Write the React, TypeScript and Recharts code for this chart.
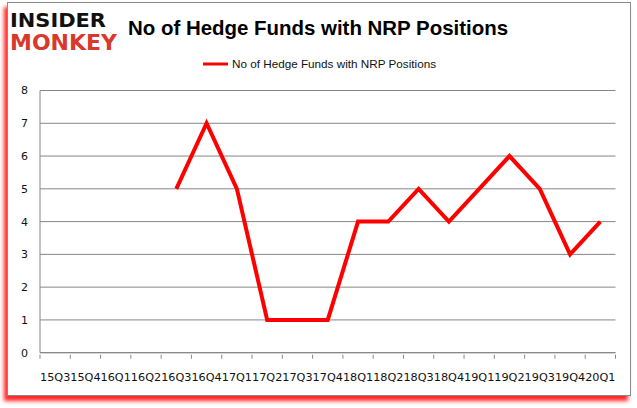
import { LineChart, Line, XAxis, YAxis, CartesianGrid } from "recharts"

const quarters = [
 "15Q3", "15Q4", "16Q1", "16Q2", "16Q3", "16Q4", "17Q1", "17Q2", "17Q3", "17Q4",
 "18Q1", "18Q2", "18Q3", "18Q4", "19Q1", "19Q2", "19Q3", "19Q4", "20Q1",
]

const hedgeFunds: (number | null)[] = [
 null, null, null, null, 5, 7, 5, 1, 1, 1, 4, 4, 5, 4, 5, 6, 5, 3, 4,
]

const yTicks = [0, 1, 2, 3, 4, 5, 6, 7, 8]

const seriesName = "No of Hedge Funds with NRP Positions"

const data = quarters.map((q, i) => ({ quarter: q, funds: hedgeFunds[i] }))

const PLOT_LEFT = 40
const PLOT_RIGHT = 615.5
const BAND = (PLOT_RIGHT - PLOT_LEFT) / quarters.length
const AXIS_GRAY = "#868686"

function QuarterTick(props: any) {
 const { x, y, payload, index } = props
 const last = index === quarters.length - 1
 return (
  <g>
   <line x1={x - BAND / 2} x2={x - BAND / 2} y1={y} y2={y + 4} stroke={AXIS_GRAY} />
   {last && (
    <line x1={x + BAND / 2} x2={x + BAND / 2} y1={y} y2={y + 4} stroke={AXIS_GRAY} />
   )}
   <text
    x={x}
    y={y + 26}
    textAnchor="middle"
    fontSize={10.5}
    fontFamily="DejaVu Sans"
    textLength={BAND}
    lengthAdjust="spacingAndGlyphs"
    fill="#111"
   >
    {payload.value}
   </text>
  </g>
 )
}

export default function App() {
 return (
  <div
   style={{
    position: "absolute",
    left: 0,
    top: 0,
    width: 637,
    height: 408,
    background: "#fff",
   }}
  >
   <div
    style={{
     position: "absolute",
     left: 7,
     top: 2,
     width: 622,
     height: 392,
     border: "1px solid #8a8a8a",
     boxShadow: "-3px 5px 4px rgba(255,0,0,0.85)",
     background: "#fff",
    }}
   />

   <svg
    width={637}
    height={80}
    style={{ position: "absolute", left: 0, top: 0 }}
   >
    <text
     x={10}
     y={27}
     fontFamily="DejaVu Sans"
     fontWeight="bold"
     fontSize={20}
     textLength={96}
     lengthAdjust="spacingAndGlyphs"
     fill="#111"
    >
     INSIDER
    </text>
    <text
     x={10}
     y={50}
     fontFamily="DejaVu Sans"
     fontWeight="bold"
     fontSize={22}
     textLength={107}
     lengthAdjust="spacingAndGlyphs"
     fill="#d8392b"
    >
     MONKEY
    </text>
    <text
     x={128}
     y={35}
     fontFamily="Liberation Sans"
     fontWeight="bold"
     fontSize={21}
     textLength={380}
     lengthAdjust="spacingAndGlyphs"
     fill="#000"
    >
     No of Hedge Funds with NRP Positions
    </text>
    <line x1={203} x2={228} y1={64} y2={64} stroke="#ff0000" strokeWidth={3} />
    <text
     x={232}
     y={68}
     fontFamily="Liberation Sans"
     fontSize={11.5}
     textLength={204}
     lengthAdjust="spacingAndGlyphs"
     fill="#111"
    >
     {seriesName}
    </text>
   </svg>

   <div style={{ position: "absolute", left: 0, top: 0 }}>
    <LineChart
     width={637}
     height={408}
     data={data}
     margin={{ top: 90.5, right: 637 - PLOT_RIGHT, left: 10, bottom: 25.3 }}
    >
     <CartesianGrid vertical={false} stroke={AXIS_GRAY} strokeWidth={1} />
     <XAxis
      dataKey="quarter"
      scale="band"
      interval={0}
      axisLine={{ stroke: AXIS_GRAY }}
      tickLine={false}
      tickSize={0}
      height={30}
      tick={<QuarterTick />}
     />
     <YAxis
      domain={[0, 8]}
      ticks={yTicks}
      interval={0}
      width={30}
      axisLine={{ stroke: AXIS_GRAY }}
      tickLine={false}
      tickSize={0}
      tickMargin={12}
      tick={{ fontSize: 11, fontFamily: "DejaVu Sans", fill: "#111" }}
     />
     <Line
      type="linear"
      dataKey="funds"
      name={seriesName}
      stroke="#ff0000"
      strokeWidth={4}
      dot={false}
      activeDot={false}
      isAnimationActive={false}
     />
    </LineChart>
   </div>
  </div>
 )
}
